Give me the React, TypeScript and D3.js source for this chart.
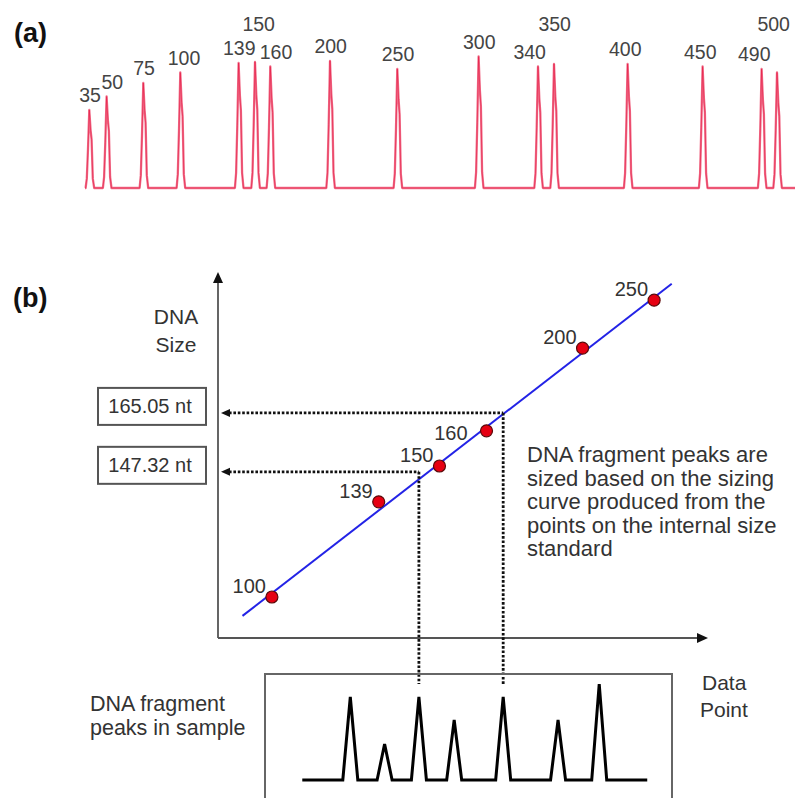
import React from 'react';
import * as d3 from 'd3';

// (a) internal size standard trace
const ladderSizes = [35, 50, 75, 100, 139, 150, 160, 200, 250, 300, 340, 350, 400, 450, 490, 500];
const ladderScan = [50, 223, 590, 960, 1543, 1707, 1860, 2457, 3130, 3943, 4537, 4697, 5433, 6183, 6773, 6927];
const ladderRfu = [780, 915, 1050, 1155, 1250, 1260, 1215, 1270, 1190, 1315, 1215, 1240, 1240, 1215, 1190, 1155];
const raisedLabels = [150, 350, 500];
const labelNudge: Record<number, number> = { 50: 5, 100: 3, 150: 3, 160: 5, 340: -9, 400: -3, 450: -3, 490: -8, 500: -4 };

// (b) sizing curve points
const curveSizes = [100, 139, 150, 160, 200, 250];
const curveDataPoint = [55, 164, 226, 274, 372, 445];
const curveLevel = [11.2, 37.2, 47.0, 56.6, 79.2, 92.3];
const fitExtent = [25, 463];

// sample peaks
const sampleDataPoint = [135, 170, 205, 241, 291, 347, 389];
const sampleHeight = [83, 36, 83, 60, 83, 60, 96];
const sampleExtent = [86, 438];

// sized fragments
const queryPeak = [4, 2];
const queryLevel = [61.5, 45.4];
const queryLabels = ['165.05 nt', '147.32 nt'];

const descLines = [
  'DNA fragment peaks are',
  'sized based on the sizing',
  'curve produced from the',
  'points on the internal size',
  'standard',
];

const FONT = '"Liberation Sans", Arial, Helvetica, sans-serif';

export default function App() {
  // ---- panel (a)
  const xA = d3.scaleLinear().domain([0, 7100]).range([85, 795]);
  const yA = d3.scaleLinear().domain([0, 1400]).range([188, 48]);

  // peak outline template: [scan offset, fraction of height]
  const shape: [number, number][] = [
    [-44, 0], [-32, 0.12], [-20, 0.5], [-7, 1], [6, 0.74], [16, 0.62], [28, 0.12], [42, 0],
  ];
  const tracePts: [number, number][] = [[0, 0]];
  ladderScan.forEach((s, i) => {
    shape.forEach(([dx, f]) => tracePts.push([s + dx, ladderRfu[i] * f]));
  });
  tracePts.push([7200, 0]);
  const traceLine = d3.line<[number, number]>().x(d => xA(d[0])).y(d => yA(d[1]));

  // ---- panel (b)
  const xB = d3.scaleLinear().domain([0, 500]).range([218, 708]);
  const yB = d3.scaleLinear().domain([0, 100]).range([638, 272]);
  const mx = d3.mean(curveDataPoint)!;
  const my = d3.mean(curveLevel)!;
  const slope =
    d3.sum(curveDataPoint, (x, i) => (x - mx) * (curveLevel[i] - my)) /
    d3.sum(curveDataPoint, x => (x - mx) ** 2);
  const fit = (x: number) => my + slope * (x - mx);

  const yS = d3.scaleLinear().domain([0, 100]).range([780, 680]);
  const samplePts: [number, number][] = [[xB(sampleExtent[0]), yS(0)]];
  sampleDataPoint.forEach((p, i) => {
    const cx = xB(p);
    samplePts.push([cx - 7.5, yS(0)], [cx, yS(sampleHeight[i])], [cx + 7.5, yS(0)]);
  });
  samplePts.push([xB(sampleExtent[1]), yS(0)]);
  const sampleLine = d3.line();

  const boxTop = 674;
  const x0 = xB(0);
  const yBase = yB(0);

  return (
    <svg width={795} height={798} style={{ position: 'absolute', left: 0, top: 0, display: 'block', background: '#fff' }}
      fontFamily={FONT}>
      {/* panel (a) */}
      <text x={14} y={42} fontSize={27} fontWeight="bold" fill="#111">(a)</text>
      <path d={traceLine(tracePts)!} fill="none" stroke="#f0708b" strokeWidth={2.3} strokeLinejoin="round" />
      <path d={traceLine(tracePts)!} fill="none" stroke="#e5103c" strokeWidth={1} strokeOpacity={0.55} />
      {ladderSizes.map((s, i) => {
        const raised = raisedLabels.includes(s);
        return (
          <text key={s} x={xA(ladderScan[i]) + (labelNudge[s] || 0)} y={raised ? 31 : yA(ladderRfu[i]) - 8}
            textAnchor="middle" fontSize={19.5} fill="#444">{s}</text>
        );
      })}

      {/* panel (b) */}
      <text x={13} y={307} fontSize={27} fontWeight="bold" fill="#111">(b)</text>
      <text x={176} y={324} textAnchor="middle" fontSize={21} fill="#333">DNA</text>
      <text x={176} y={352} textAnchor="middle" fontSize={21} fill="#333">Size</text>

      {/* axes */}
      <line x1={x0} y1={yBase} x2={x0} y2={yB(100) + 9} stroke="#555" strokeWidth={1.8} />
      <path d={`M${x0},${yB(100)} L${x0 - 5},${yB(100) + 11} L${x0 + 5},${yB(100) + 11}Z`} fill="#111" />
      <line x1={x0} y1={yBase} x2={xB(500) - 9} y2={yBase} stroke="#555" strokeWidth={1.8} />
      <path d={`M${xB(500)},${yBase} L${xB(500) - 11},${yBase - 5} L${xB(500) - 11},${yBase + 5}Z`} fill="#111" />

      {/* fitted sizing curve */}
      <line x1={xB(fitExtent[0])} y1={yB(fit(fitExtent[0]))} x2={xB(fitExtent[1])} y2={yB(fit(fitExtent[1]))}
        stroke="#2323e6" strokeWidth={2} />

      {/* query lines */}
      {queryPeak.map((pi, k) => {
        const qx = xB(sampleDataPoint[pi]);
        const qy = yB(queryLevel[k]);
        return (
          <g key={k}>
            <line x1={x0 + 11} y1={qy} x2={qx} y2={qy} stroke="#111" strokeWidth={2.8} strokeDasharray="2.6 1.8" />
            <line x1={qx} y1={qy} x2={qx} y2={boxTop + 10} stroke="#111" strokeWidth={2.8} strokeDasharray="2.6 1.8" />
            <path d={`M${x0 + 3},${qy} L${x0 + 12},${qy - 4} L${x0 + 12},${qy + 4}Z`} fill="#111" />
            <rect x={98} y={qy - 25} width={108} height={37} fill="#fff" stroke="#555" strokeWidth={2} />
            <text x={150} y={qy} textAnchor="middle" fontSize={20} fill="#333">{queryLabels[k]}</text>
          </g>
        );
      })}

      {/* size standard points */}
      {curveSizes.map((s, i) => {
        const cx = xB(curveDataPoint[i]);
        const cy = yB(curveLevel[i]);
        const lowered = s === 160;
        return (
          <g key={s}>
            <circle cx={cx} cy={cy} r={6} fill="#e60012" stroke="#5a0a0a" strokeWidth={1.2} />
            <text x={cx - (lowered ? 19 : 6)} y={cy + (lowered ? 9 : -4)} textAnchor="end" fontSize={20} fill="#333">{s}</text>
          </g>
        );
      })}

      {descLines.map((t, i) => (
        <text key={i} x={527} y={462 + i * 23.6} fontSize={22} fill="#333">{t}</text>
      ))}

      {/* sample box */}
      <rect x={265} y={boxTop} width={407} height={140} fill="none" stroke="#666" strokeWidth={2} />
      <path d={sampleLine(samplePts)!} fill="none" stroke="#000" strokeWidth={3} strokeLinejoin="miter" />
      <text x={90} y={711} fontSize={21.5} fill="#333">DNA fragment</text>
      <text x={90} y={735} fontSize={21.5} fill="#333">peaks in sample</text>
      <text x={702} y={690} fontSize={21} fill="#333">Data</text>
      <text x={700} y={717} fontSize={21} fill="#333">Point</text>
    </svg>
  );
}
